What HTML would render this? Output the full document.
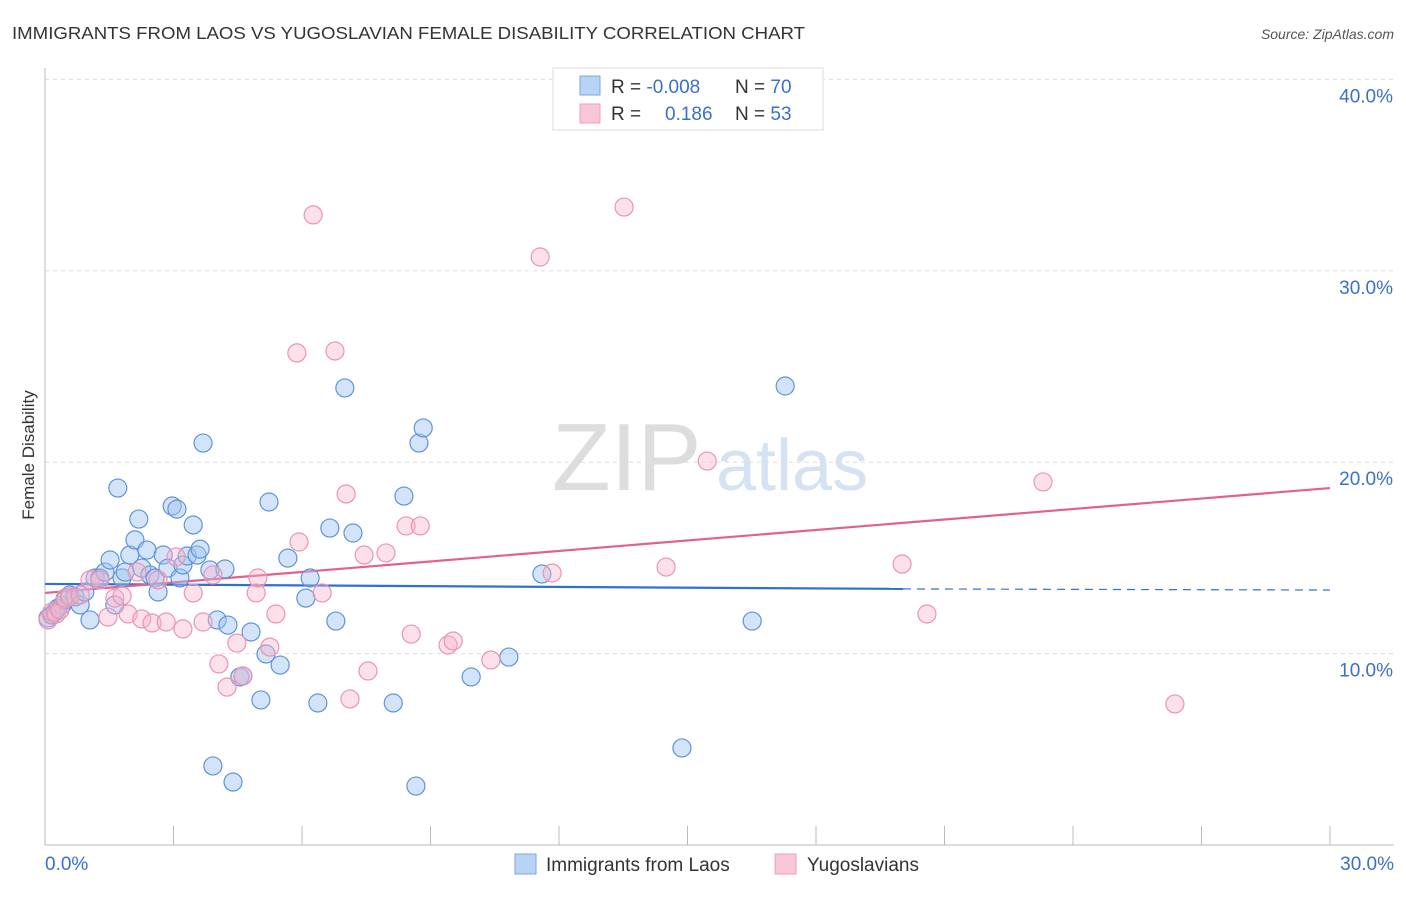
<!DOCTYPE html>
<html><head><meta charset="utf-8"><style>
body{margin:0;background:#fff;font-family:"Liberation Sans",sans-serif}
svg text{font-family:"Liberation Sans",sans-serif}
</style></head><body>
<svg id="c" width="1406" height="892">
<text x="12" y="39" font-size="17.5" fill="#333" textLength="793" lengthAdjust="spacingAndGlyphs">IMMIGRANTS FROM LAOS VS YUGOSLAVIAN FEMALE DISABILITY CORRELATION CHART</text>
<text x="1394" y="39" font-size="14" fill="#555" font-style="italic" text-anchor="end">Source: ZipAtlas.com</text>
<g><text x="552" y="490" font-size="96" fill="#ddd" font-family="Liberation Serif">ZIP</text><text x="716" y="490" font-size="72" fill="#d4e2f4">atlas</text></g>
<g id="grid"></g><g id="axes"></g><g id="trend"></g><g id="pts"></g>
<text transform="translate(34,455) rotate(-90)" font-size="17" fill="#333" text-anchor="middle">Female Disability</text>
<g>
<rect x="553" y="68" width="270" height="62" fill="#fff" stroke="#ddd"/>
<rect x="580" y="76" width="20" height="19" fill="#b9d3f5" stroke="#7aa7e0"/>
<rect x="580" y="104" width="20" height="19" fill="#f8c6d4" stroke="#eda0b8"/>
<text x="611" y="93" font-size="19" fill="#333">R = <tspan fill="#3a6fcc">-0.008</tspan><tspan x="735">N = </tspan><tspan fill="#3a6fcc">70</tspan></text>
<text x="611" y="120" font-size="19" fill="#333">R = <tspan x="665" fill="#3a6fcc">0.186</tspan><tspan x="735">N = </tspan><tspan fill="#3a6fcc">53</tspan></text>
</g>
<g>
<rect x="515" y="854" width="21" height="20" fill="#b9d3f5" stroke="#7aa7e0"/>
<text x="546" y="871" font-size="19" fill="#333">Immigrants from Laos</text>
<rect x="775" y="854" width="21" height="20" fill="#f8c6d4" stroke="#eda0b8"/>
<text x="807" y="871" font-size="19" fill="#333">Yugoslavians</text>
</g>
</svg>
<script>
const yTicks=[10,20,30,40];
const yTickLabels=["10.0%","20.0%","30.0%","40.0%"];
const xTickVals=[0,3,6,9,12,15,18,21,24,27,30];
const xEndLabels=["0.0%","30.0%"];
const laosX=[0.07,0.16,0.23,0.30,0.40,0.47,0.58,0.70,0.82,0.93,1.05,1.17,1.28,1.40,1.52,1.63,1.70,1.80,1.87,1.98,2.10,2.19,2.26,2.38,2.45,2.57,2.64,2.76,2.87,2.97,3.08,3.15,3.22,3.32,3.46,3.55,3.62,3.69,3.85,3.92,4.02,4.20,4.27,4.39,4.55,4.62,4.81,5.04,5.16,5.23,5.49,5.67,6.09,6.19,6.37,6.65,6.79,7.00,7.19,8.13,8.38,8.66,8.73,8.83,9.95,10.83,11.60,14.87,16.51,17.28];
const laosY=[11.86,12.02,12.17,12.38,12.54,12.80,13.06,12.96,12.54,13.22,11.76,13.95,13.95,14.26,14.89,12.54,18.65,13.95,14.26,15.15,15.94,17.03,14.47,15.41,14.11,13.95,13.22,15.15,14.47,17.71,17.55,13.95,14.63,15.10,16.72,15.15,15.46,21.00,14.37,4.13,11.76,14.42,11.49,3.29,8.78,8.83,11.13,7.58,9.98,17.92,9.40,14.99,12.90,13.95,7.42,16.56,11.70,23.88,16.30,7.42,18.23,3.08,21.00,21.79,8.78,9.82,14.16,5.07,11.70,23.98];
const yugoX=[0.07,0.16,0.26,0.35,0.47,0.58,0.82,1.05,1.28,1.47,1.63,1.80,1.94,2.15,2.26,2.50,2.64,2.83,3.06,3.22,3.46,3.69,3.92,4.06,4.25,4.48,4.62,4.93,4.97,5.25,5.39,5.88,5.93,6.26,6.47,6.77,7.03,7.12,7.45,7.54,7.96,8.43,8.55,8.76,9.41,9.53,10.41,11.56,11.84,13.52,14.50,15.46,20.01,20.59,23.30,26.38];
const yugoY=[11.76,12.17,12.07,12.28,12.90,12.96,13.06,13.85,13.85,11.91,12.90,13.01,12.07,14.26,11.81,11.60,13.85,11.65,15.05,11.29,13.17,11.65,14.11,9.46,8.25,10.55,8.83,13.17,13.95,10.34,12.07,25.71,15.83,32.92,13.17,25.81,18.34,7.63,15.15,9.09,15.26,16.67,11.02,16.67,10.45,10.66,9.67,30.72,14.21,33.33,14.52,20.06,14.68,12.07,18.97,7.37];
const laosTrend=[13.64,13.38,13.32]; const laosTrendX=[0,20.03,30];
const yugoTrend=[13.17,18.65]; const yugoTrendX=[0,30];
const NS="http://www.w3.org/2000/svg";
const sx=v=>45+v/30*1285, sy=v=>845-v*19.14;
function mk(t,a,p){const e=document.createElementNS(NS,t);for(const k in a)e.setAttribute(k,a[k]);p.appendChild(e);return e;}
const G=document.getElementById('grid'),A=document.getElementById('axes'),T=document.getElementById('trend'),P=document.getElementById('pts');
yTicks.forEach((v,i)=>{const l=mk('line',{x1:45,x2:1394,y1:sy(v),y2:sy(v),stroke:'#ddd','stroke-dasharray':'4,4'},G);


const t=mk('text',{x:1393,y:sy(v)+23,'font-size':19,fill:'#3a6fcc','text-anchor':'end'},G);t.textContent=yTickLabels[i];

});
const ax=mk('line',{x1:45,x2:45,y1:68,y2:845,stroke:'#bbb'},A);


const bx=mk('line',{x1:45,x2:1394,y1:845,y2:845,stroke:'#bbb'},A);


xTickVals.forEach(v=>{const l=mk('line',{x1:sx(v),x2:sx(v),y1:826,y2:845,stroke:'#bbb'},A);

});
[[0,'start',45],[30,'end',1394]].forEach((d,i)=>{const t=mk('text',{x:d[2],y:870,'font-size':19,fill:'#3a6fcc','text-anchor':d[1]},A);t.textContent=xEndLabels[i];

});
function dots(X,Y,fill,stroke,name){X.forEach((x,i)=>{const c=mk('circle',{cx:sx(x),cy:sy(Y[i]),r:9,fill:fill,stroke:stroke,'stroke-width':1.2},P);

});}
dots(laosX,laosY,'rgba(160,195,240,0.45)','#5f93dc','laos-point');
dots(yugoX,yugoY,'rgba(247,180,202,0.4)','#eb94b0','yugoslavian-point');
const l1=mk('line',{x1:sx(laosTrendX[0]),y1:sy(laosTrend[0]),x2:sx(laosTrendX[1]),y2:sy(laosTrend[1]),stroke:'#2f6fd6','stroke-width':2.2},T);


const l2=mk('line',{x1:sx(laosTrendX[1]),y1:sy(laosTrend[1]),x2:sx(laosTrendX[2]),y2:sy(laosTrend[2]),stroke:'#2f6fd6','stroke-width':1.2,'stroke-dasharray':'8,6'},T);


const l3=mk('line',{x1:sx(yugoTrendX[0]),y1:sy(yugoTrend[0]),x2:sx(yugoTrendX[1]),y2:sy(yugoTrend[1]),stroke:'#e3608c','stroke-width':2.2},T);


</script>
</body></html>
